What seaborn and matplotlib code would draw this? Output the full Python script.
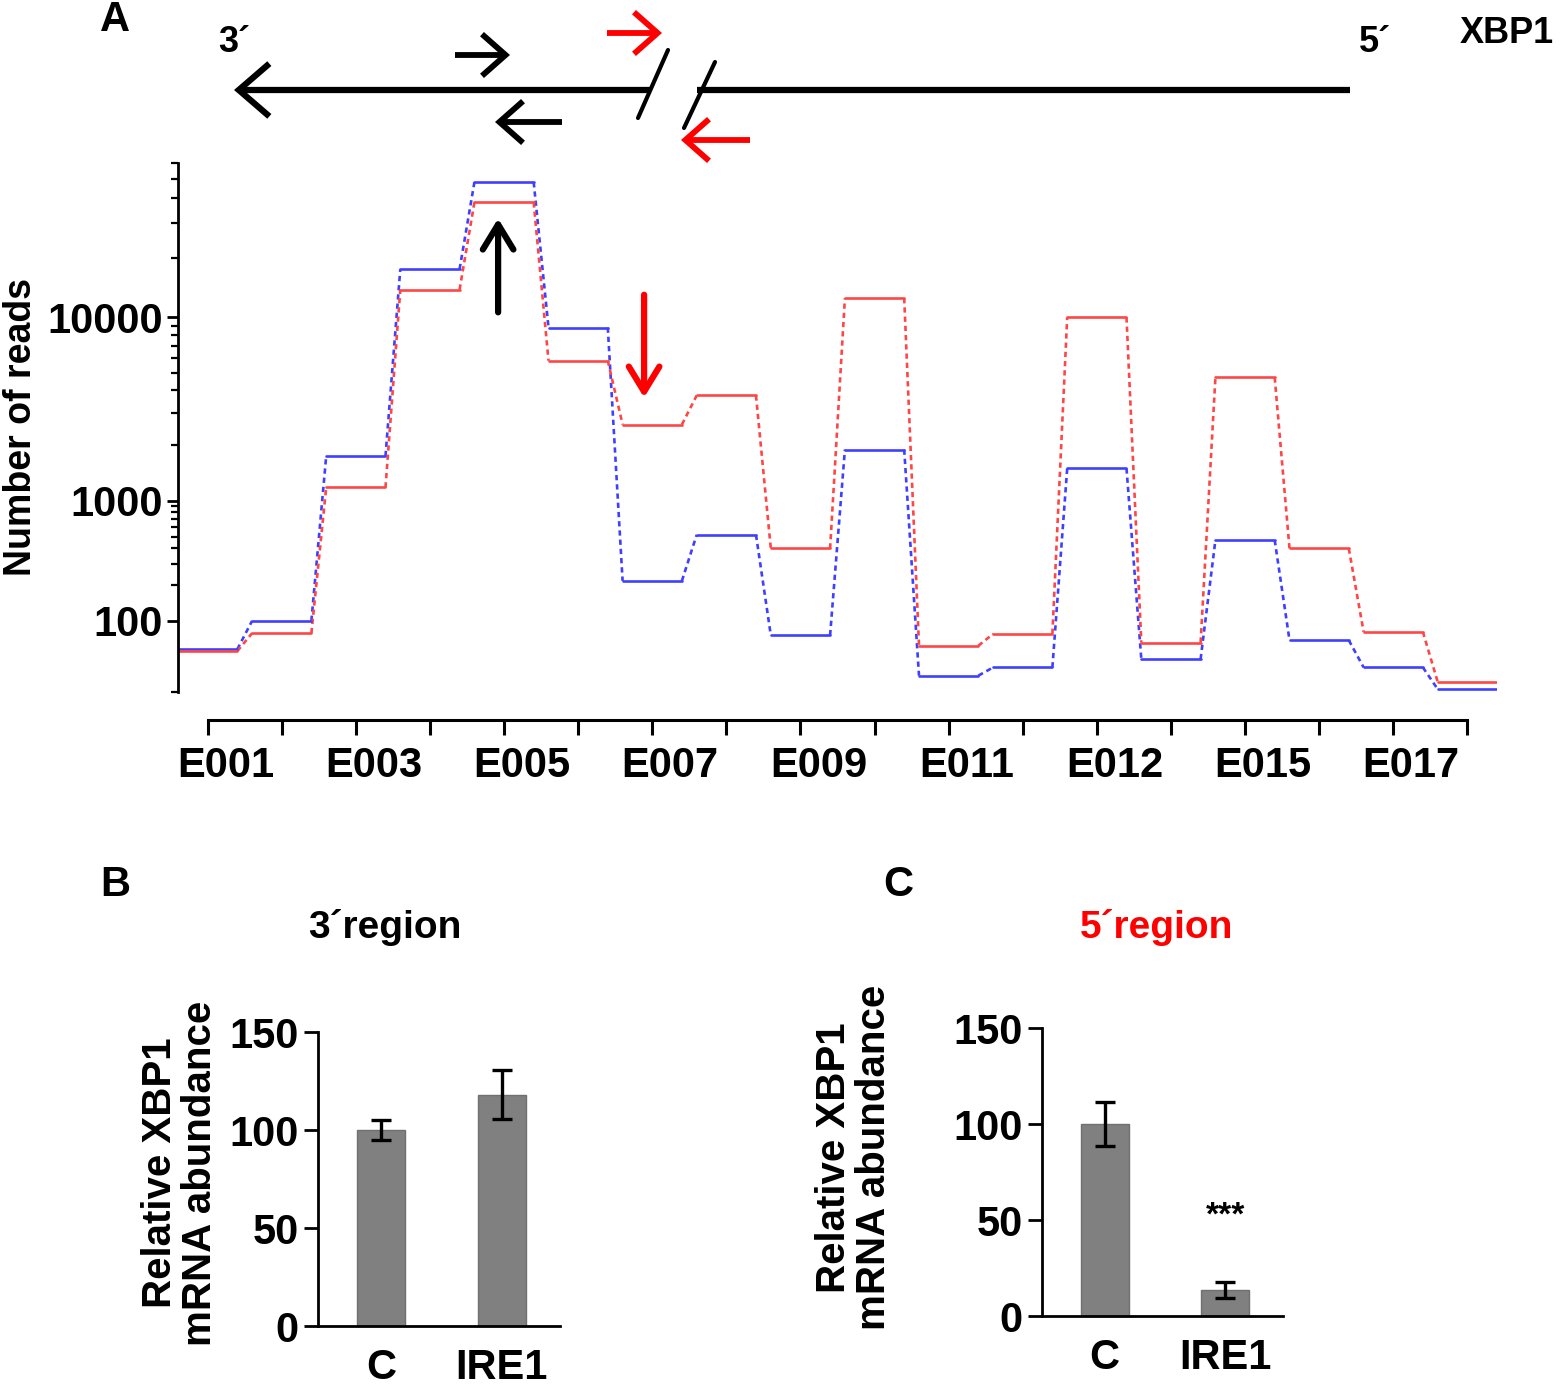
import matplotlib
matplotlib.use("Agg")
import matplotlib.pyplot as plt
import matplotlib.transforms as mtransforms
import numpy as np
import pandas as pd
import seaborn as sns
from matplotlib.ticker import FixedLocator, FuncFormatter, NullFormatter

# ── Data ──────────────────────────────────────────────────────────────────────
EXON_LABELS = ["E001", "", "E003", "", "E005", "", "E007", "", "E009", "",
               "E011", "", "E012", "", "E015", "", "E017", ""]
BLUE_READS = [58, 100, 1750, 17500, 48000, 8800, 215, 520, 76, 1900,
              35, 41, 1500, 48, 470, 69, 41, 27]
RED_READS = [56, 79, 1180, 13800, 38000, 5800, 2600, 3750, 400, 12500,
             62, 78, 10000, 66, 4700, 400, 81, 31]

GROUPS = ["C", "IRE1"]
REGION3_MEAN = [100, 118]
REGION3_ERR = [5, 12.5]
REGION5_MEAN = [100, 13.5]
REGION5_ERR = [11.5, 4]

W, H, DPI = 1563, 1388, 100
HALF = 0.4
PALETTE = {"blue": "#3f3fff", "red": "#ff4646"}

# the reads axis is log-like but each decade has its own height
LOG_KNOTS = np.array([1.0, 2.0, 3.0, 4.0, 5.0])
POS_KNOTS = np.array([-49.0, 71.0, 191.0, 374.0, 572.0])


def _fwd(v):
    v = np.clip(np.asarray(v, dtype=float), 1e-3, None)
    return np.interp(np.log10(v), LOG_KNOTS, POS_KNOTS)


def _inv(p):
    return 10 ** np.interp(np.asarray(p, dtype=float), POS_KNOTS, LOG_KNOTS)


sns.set_style("white")
plt.rcParams["font.family"] = ["Liberation Sans Narrow", "Liberation Sans", "DejaVu Sans"]
plt.rcParams["font.weight"] = "bold"
plt.rcParams["axes.labelweight"] = "bold"
for key in ("text.color", "axes.labelcolor", "xtick.color", "ytick.color", "axes.edgecolor"):
    plt.rcParams[key] = "black"

fig = plt.figure(figsize=(W / DPI, H / DPI), dpi=DPI)


def px_rect(left, top, right, bottom):
    return [left / W, 1 - bottom / H, (right - left) / W, (bottom - top) / H]


# ── Gene diagram (figure pixel coords) ────────────────────────────────────────
ov = fig.add_axes([0, 0, 1, 1], zorder=-1)
ov.set_xlim(0, W)
ov.set_ylim(H, 0)
ov.axis("off")


def _arrow(x0, y0, x1, y1, color, lw, hl, hw):
    ov.annotate("", xy=(x1, y1), xytext=(x0, y0),
                arrowprops=dict(arrowstyle=f"->,head_length={hl},head_width={hw}",
                                lw=lw, color=color, mutation_scale=20,
                                shrinkA=0, shrinkB=0, capstyle="butt",
                                joinstyle="miter"))


_arrow(650, 90, 234, 90, "black", 4.5, 1.1, 0.95)
ov.plot([697, 1350], [90, 90], color="black", lw=4.5, solid_capstyle="butt")
ov.plot([638, 668], [118, 50], color="black", lw=3)
ov.plot([684, 715], [128, 62], color="black", lw=3)
_arrow(455, 55, 510, 55, "black", 4.2, 0.85, 0.75)
_arrow(562, 122, 495, 122, "black", 4.2, 0.85, 0.75)
_arrow(607, 33, 662, 33, "red", 4.2, 0.85, 0.75)
_arrow(750, 140, 681, 140, "red", 4.2, 0.85, 0.75)

ov.text(115, 20, "A", fontsize=30, ha="center", va="center")
ov.text(234, 42, "3´", fontsize=26, ha="center", va="center")
ov.text(1375, 42, "5´", fontsize=26, ha="center", va="center")
ov.text(1507, 33, "XBP1", fontsize=26, ha="center", va="center")
ov.text(115, 885, "B", fontsize=30, ha="center", va="center")
ov.text(898, 885, "C", fontsize=30, ha="center", va="center")
ov.text(385, 927, "3´region", fontsize=28, ha="center", va="center")
ov.text(1157, 927, "5´region", fontsize=28, ha="center", va="center", color="red")

# ── Panel A: exon read counts ────────────────────────────────────────────────
seg_rows, link_rows = [], []
for name, reads in (("blue", BLUE_READS), ("red", RED_READS)):
    for i, v in enumerate(reads):
        seg_rows.append(dict(sample=name, seg=i, x=i - HALF, reads=v))
        seg_rows.append(dict(sample=name, seg=i, x=i + HALF, reads=v))
        if i + 1 < len(reads):
            link_rows.append(dict(sample=name, seg=i, x=i + HALF, reads=v))
            link_rows.append(dict(sample=name, seg=i, x=i + 1 - HALF, reads=reads[i + 1]))
segs = pd.DataFrame(seg_rows)
links = pd.DataFrame(link_rows)

ax = fig.add_axes(px_rect(178, 163, 1497, 692))
ax.set_yscale("function", functions=(_fwd, _inv))
sns.lineplot(data=links, x="x", y="reads", hue="sample", units="seg", estimator=None,
             palette=PALETTE, lw=1.9, linestyle=(0, (2.0, 1.5)), legend=False, ax=ax)
sns.lineplot(data=segs, x="x", y="reads", hue="sample", units="seg", estimator=None,
             palette=PALETTE, lw=1.9, legend=False, ax=ax)

n = len(BLUE_READS)
ax.set_xlim(-HALF, n - 1 + HALF)
ax.set_ylim(25.6, 60000)
ax.yaxis.set_major_locator(FixedLocator([100, 1000, 10000]))
ax.yaxis.set_major_formatter(FuncFormatter(lambda v, p: f"{v:.0f}"))
minors = [25.6] + [k * 10 ** d for d in (2, 3, 4) for k in range(2, 10) if k * 10 ** d <= 60000]
ax.yaxis.set_minor_locator(FixedLocator(minors))
ax.yaxis.set_minor_formatter(NullFormatter())
ax.set_xticks(range(n))
ax.set_xticklabels(EXON_LABELS)
ax.set_xlabel("")
ax.set_ylabel("Number of reads", fontsize=27, labelpad=6)

for side in ("top", "right"):
    ax.spines[side].set_visible(False)
ax.spines["left"].set_linewidth(2)
ax.spines["bottom"].set_linewidth(2.2)
ax.spines["bottom"].set_position(("outward", 20))
ax.spines["bottom"].set_bounds(0, n - 1)
ax.tick_params(axis="y", which="major", length=8, width=2, labelsize=30, pad=3, left=True)
ax.tick_params(axis="y", which="minor", length=5, width=1.6, left=True)
ax.tick_params(axis="x", length=11, width=2.2, labelsize=30, pad=8, bottom=True)
shift = mtransforms.ScaledTranslation(18 / DPI, 0, fig.dpi_scale_trans)
for lab in ax.get_xticklabels():
    lab.set_transform(lab.get_transform() + shift)

ax.annotate("", xy=(3.92, 31500), xytext=(3.92, 10600),
            arrowprops=dict(arrowstyle="->,head_length=0.9,head_width=0.55", lw=4.5,
                            color="black", mutation_scale=20, shrinkA=0, shrinkB=0))
ax.annotate("", xy=(5.89, 3650), xytext=(5.89, 13000),
            arrowprops=dict(arrowstyle="->,head_length=0.9,head_width=0.55", lw=4.5,
                            color="red", mutation_scale=20, shrinkA=0, shrinkB=0))


# ── Panels B and C: qPCR bars ─────────────────────────────────────────────────
def bar_panel(rect, means, errs, label_xy, stars=False):
    bx = fig.add_axes(rect)
    sns.barplot(x=GROUPS, y=means, color="#808080", saturation=1, width=0.4,
                edgecolor="#707070", linewidth=1, errorbar=None, ax=bx)
    bx.errorbar(range(len(GROUPS)), means, yerr=errs, fmt="none", ecolor="black",
                elinewidth=2.4, capsize=7, capthick=2.4)
    if stars:
        bx.text(1, 52, "***", ha="center", va="center", fontsize=24)
    bx.set_xlim(-0.52, 1.48)
    bx.set_ylim(0, 150)
    bx.set_yticks([0, 50, 100, 150])
    for side in ("top", "right"):
        bx.spines[side].set_visible(False)
    for side in ("left", "bottom"):
        bx.spines[side].set_linewidth(2)
    bx.tick_params(axis="y", length=10, width=2, labelsize=30, pad=4, left=True)
    bx.tick_params(axis="x", length=0, labelsize=30, pad=16)
    bx.set_ylabel("Relative XBP1\nmRNA abundance", fontsize=29, linespacing=1.05)
    bx.yaxis.set_label_coords(*label_xy)
    return bx


bar_panel(px_rect(318, 1032, 560, 1326), REGION3_MEAN, REGION3_ERR, (-0.41, 0.52))
bar_panel(px_rect(1042, 1028, 1283, 1316), REGION5_MEAN, REGION5_ERR, (-0.62, 0.55), stars=True)

fig.savefig("out.png", dpi=DPI)
